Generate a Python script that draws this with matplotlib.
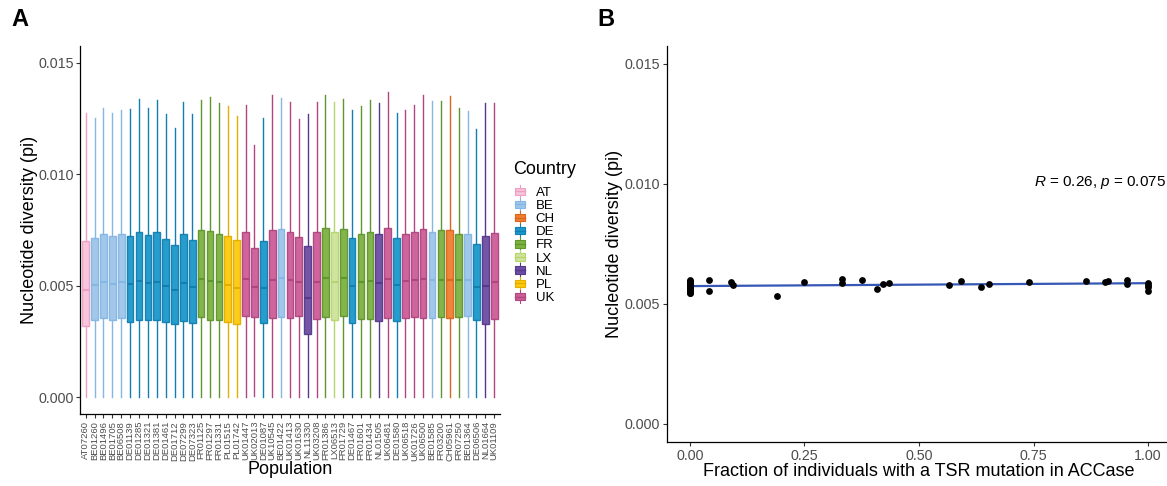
import matplotlib
matplotlib.use("Agg")
import matplotlib.pyplot as plt
import numpy as np
from matplotlib.patches import Patch, Rectangle
from matplotlib.lines import Line2D
from matplotlib.legend_handler import HandlerBase

plt.rcParams['font.family'] = ['Liberation Sans', 'DejaVu Sans']
plt.rcParams['mathtext.fontset'] = 'custom'
plt.rcParams['mathtext.it'] = 'Liberation Sans:italic'
plt.rcParams['mathtext.rm'] = 'Liberation Sans'

# ---------------- Data: panel A ----------------
populations = ["AT07260", "BE01260", "BE01496", "BE01705", "BE06508", "DE01139", "DE01285",
               "DE01321", "DE01381", "DE01461", "DE01712", "DE07299", "DE07323", "FR01125",
               "FR01297", "FR01331", "PL01515", "PL01742", "UK01447", "UK02013", "DE01087",
               "UK10545", "BE01422", "UK01413", "UK01630", "NL11330", "UK03208", "FR01386",
               "LX06513", "FR01729", "DE01467", "FR01601", "FR01434", "NL01505", "UK06481",
               "DE01580", "UK06518", "UK01726", "UK06500", "BE01585", "FR03200", "CH05961",
               "FR07250", "BE01364", "DE06506", "NL01664", "UK01109"]

whisker_low = [0.0, 0.0, 0.0, 0.0, 0.0, 0.0, 0.0, 0.0, 0.0, 0.0, 0.0, 0.0, 0.0, 0.0, 0.0, 0.0,
               0.0, 0.0, 0.0, 0.00007, 0.0, 0.0, 0.0, 0.0, 0.0, 0.0, 0.0, 0.0, 0.0, 0.0, 0.0, 0.0,
               0.0, 0.0, 0.0, 0.0, 0.0, 0.0, 0.0, 0.0, 0.0, 0.0, 0.0, 0.0, 0.0, 0.0, 0.0]
q1 = [0.00318, 0.00348, 0.00354, 0.00348, 0.00355, 0.00339, 0.00346, 0.00346, 0.00345, 0.00336,
      0.00330, 0.00340, 0.00331, 0.00361, 0.00345, 0.00348, 0.00336, 0.00330, 0.00366, 0.00361,
      0.00333, 0.00354, 0.00361, 0.00357, 0.00363, 0.00282, 0.00351, 0.00361, 0.00346, 0.00366,
      0.00333, 0.00351, 0.00351, 0.00342, 0.00354, 0.00340, 0.00357, 0.00361, 0.00354, 0.00357,
      0.00360, 0.00354, 0.00358, 0.00363, 0.00346, 0.00327, 0.00351]
median = [0.00482, 0.00503, 0.00518, 0.00509, 0.00516, 0.00506, 0.00521, 0.00513, 0.00518, 0.00498,
          0.00482, 0.00512, 0.00493, 0.00530, 0.00521, 0.00515, 0.00503, 0.00490, 0.00531, 0.00494,
          0.00491, 0.00527, 0.00533, 0.00527, 0.00518, 0.00446, 0.00519, 0.00536, 0.00515, 0.00534,
          0.00500, 0.00515, 0.00522, 0.00512, 0.00530, 0.00504, 0.00521, 0.00527, 0.00530, 0.00524,
          0.00527, 0.00527, 0.00524, 0.00524, 0.00494, 0.00500, 0.00518]
q3 = [0.00701, 0.00712, 0.00731, 0.00721, 0.00730, 0.00722, 0.00743, 0.00728, 0.00739, 0.00709,
      0.00682, 0.00734, 0.00707, 0.00749, 0.00746, 0.00734, 0.00725, 0.00703, 0.00743, 0.00669,
      0.00700, 0.00752, 0.00755, 0.00743, 0.00718, 0.00679, 0.00740, 0.00758, 0.00739, 0.00754,
      0.00712, 0.00733, 0.00742, 0.00733, 0.00760, 0.00713, 0.00730, 0.00740, 0.00755, 0.00743,
      0.00748, 0.00751, 0.00734, 0.00731, 0.00688, 0.00725, 0.00737]
whisker_high = [0.01276, 0.01254, 0.01296, 0.01276, 0.01287, 0.01294, 0.01339, 0.01298, 0.01331, 0.01269,
                0.01206, 0.01325, 0.01269, 0.01331, 0.01348, 0.01318, 0.01306, 0.01261, 0.01309, 0.01130,
                0.01251, 0.01357, 0.01342, 0.01324, 0.01249, 0.01272, 0.01325, 0.01355, 0.01325, 0.01339,
                0.01288, 0.01306, 0.01331, 0.01318, 0.01370, 0.01275, 0.01288, 0.01310, 0.01357, 0.01327,
                0.01330, 0.01352, 0.01296, 0.01284, 0.01201, 0.01318, 0.01321]

country_names = ["AT", "BE", "CH", "DE", "FR", "LX", "NL", "PL", "UK"]
country_fill = {"AT": "#F6C3DA", "BE": "#9CC5EA", "CH": "#F27E31", "DE": "#1B98CC",
                "FR": "#7DB140", "LX": "#CFE39A", "NL": "#6C4CA3", "PL": "#FDC90C",
                "UK": "#CC5E98"}
country_edge = {"AT": "#EE9FC3", "BE": "#86B6E4", "CH": "#D9661D", "DE": "#137FB0",
                "FR": "#5F9630", "LX": "#B5D66F", "NL": "#553A8B", "PL": "#E2AE00",
                "UK": "#B04680"}

# ---------------- Data: panel B ----------------
tsr_fraction = [0, 0, 0, 0, 0, 0, 0, 0, 0, 0, 0, 0, 0, 0, 0, 0, 0, 0, 0, 0, 0,
                0.042, 0.042, 0.090, 0.095, 0.190, 0.250, 0.333, 0.333, 0.375, 0.408,
                0.421, 0.434, 0.565, 0.591, 0.636, 0.652, 0.739, 0.864, 0.906, 0.913,
                0.954, 0.954, 1.0, 1.0, 1.0, 1.0]
pi_mean = [0.00600, 0.00596, 0.00592, 0.00589, 0.00586, 0.00583, 0.00580, 0.00577, 0.00574,
           0.00571, 0.00568, 0.00565, 0.00562, 0.00559, 0.00556, 0.00553, 0.00550, 0.00547,
           0.00544, 0.00590, 0.00575,
           0.00599, 0.00553, 0.00590, 0.00578, 0.00534, 0.00589, 0.00603, 0.00587, 0.00601,
           0.00561, 0.00584, 0.00587, 0.00579, 0.00597, 0.00568, 0.00582, 0.00590, 0.00595,
           0.00590, 0.00594, 0.00599, 0.00583, 0.00587, 0.00579, 0.00571, 0.00554]
cor_label = r"$R$ = 0.26, $p$ = 0.075"

# ---------------- Figure ----------------
W, H = 1167, 486
fig = plt.figure(figsize=(W / 100, H / 100), dpi=100)

tick_color = "#4D4D4D"
spine_color = "#000000"


def style_axes(ax):
    for s in ["top", "right"]:
        ax.spines[s].set_visible(False)
    for s in ["left", "bottom"]:
        ax.spines[s].set_color(spine_color)
        ax.spines[s].set_linewidth(0.9)
    ax.tick_params(axis="both", colors="#333333", labelcolor=tick_color, length=2.75,
                   width=0.8, labelsize=10.3, pad=2.2)


# Panel A
axA = fig.add_axes([80.4 / W, 1 - 414 / H, (499.5 - 80.4) / W, (414 - 46) / H])
positions = np.arange(1, len(populations) + 1)
stats = []
for i, name in enumerate(populations):
    stats.append(dict(whislo=whisker_low[i], q1=q1[i], med=median[i], q3=q3[i],
                      whishi=whisker_high[i], fliers=[], label=name))
bp = axA.bxp(stats, positions=positions, widths=0.75, patch_artist=True,
             showcaps=False, showfliers=False)
for i, name in enumerate(populations):
    c = name[:2]
    box = bp["boxes"][i]
    box.set_facecolor(country_fill[c])
    box.set_edgecolor(country_edge[c])
    box.set_linewidth(1.0)
    box.set_alpha(0.95)
    bp["medians"][i].set_color(country_edge[c])
    bp["medians"][i].set_linewidth(1.5)
    for w in bp["whiskers"][2 * i:2 * i + 2]:
        w.set_color(country_edge[c])
        w.set_linewidth(1.0)

style_axes(axA)
axA.set_xlim(0.4, len(populations) + 0.6)
axA.set_ylim(-0.00075, 0.01575)
axA.set_yticks([0.0, 0.005, 0.010, 0.015])
axA.set_yticklabels(["0.000", "0.005", "0.010", "0.015"])
axA.set_xticks(positions)
axA.set_xticklabels(populations, rotation=90, fontsize=6.8)
axA.set_xlabel("Population", fontsize=13, labelpad=0)
axA.set_ylabel("Nucleotide diversity (pi)", fontsize=13, labelpad=0)


class BoxKeyHandler(HandlerBase):
    def create_artists(self, legend, orig_handle, xdescent, ydescent, width, height,
                       fontsize, trans):
        fc = orig_handle.get_facecolor()
        ec = orig_handle.get_edgecolor()
        cx = -xdescent + width / 2
        bw = width * 0.8
        bh = height * 0.8
        y0 = -ydescent + (height - bh) / 2
        whisk = Line2D([cx, cx], [-ydescent - 1.5, -ydescent + height + 1.5], color=ec,
                       lw=0.8, transform=trans)
        rect = Rectangle((cx - bw / 2, y0), bw, bh, facecolor=fc, edgecolor=ec, lw=0.8,
                         transform=trans)
        med = Line2D([cx - bw / 2, cx + bw / 2], [y0 + bh / 2, y0 + bh / 2], color=ec,
                     lw=1.0, transform=trans)
        return [whisk, rect, med]


handles = [Patch(facecolor=country_fill[c], edgecolor=country_edge[c], label=c)
           for c in country_names]
leg = fig.legend(handles=handles, title="Country", loc="upper left",
                 bbox_to_anchor=(508 / W, 1 - 156 / H), frameon=False,
                 handler_map={Patch: BoxKeyHandler()}, fontsize=9.5,
                 title_fontsize=13, handlelength=0.95, handleheight=0.7,
                 labelspacing=0.07, handletextpad=0.75, borderaxespad=0)
leg._legend_box.align = "left"
leg._legend_box.sep = 6

# Panel B
axB = fig.add_axes([667 / W, 1 - 441.7 / H, (1171 - 667) / W, (441.7 - 46) / H])
style_axes(axB)
xs = np.array(tsr_fraction)
ys = np.array(pi_mean)
axB.scatter(xs, ys, s=24, color="black", zorder=3, linewidths=0)
coef = np.polyfit(xs, ys, 1)
xl = np.array([xs.min(), xs.max()])
axB.plot(xl, np.polyval(coef, xl), color="#3557B5", lw=1.6, zorder=2)
axB.set_xlim(-0.05, 1.05)
axB.set_ylim(-0.00075, 0.01575)
axB.set_xticks([0, 0.25, 0.5, 0.75, 1.0])
axB.set_xticklabels(["0.00", "0.25", "0.50", "0.75", "1.00"])
axB.set_yticks([0.0, 0.005, 0.010, 0.015])
axB.set_yticklabels(["0.000", "0.005", "0.010", "0.015"])
axB.set_xlabel("Fraction of individuals with a TSR mutation in ACCase", fontsize=13, labelpad=0)
axB.set_ylabel("Nucleotide diversity (pi)", fontsize=13, labelpad=1)
axB.text(0.75, 0.01004, cor_label, fontsize=11, ha="left", va="center", color="black")

# Panel tags
fig.text(11 / W, 1 - 19 / H, "A", fontsize=17, fontweight="bold", ha="left", va="center")
fig.text(597 / W, 1 - 19 / H, "B", fontsize=17, fontweight="bold", ha="left", va="center")

fig.savefig("out.png", dpi=100)
